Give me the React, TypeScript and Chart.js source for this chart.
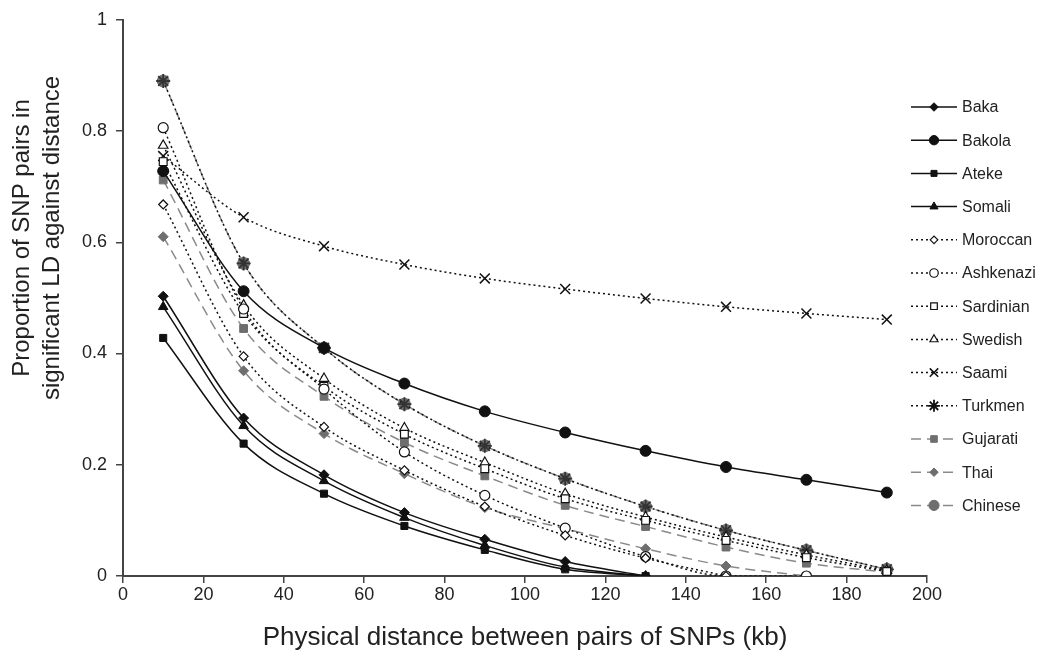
import React, { useEffect, useRef } from "react";
import { Chart, registerables } from "chart.js";
import { drawPoint } from "chart.js/helpers";

Chart.register(...registerables);

const distances = [10, 30, 50, 70, 90, 110, 130, 150, 170, 190];
const xTickStep = 20;
const yTickStep = 0.2;

const baka = [0.503, 0.284, 0.182, 0.114, 0.066, 0.026, 0];
const bakola = [0.728, 0.512, 0.41, 0.346, 0.296, 0.258, 0.225, 0.196, 0.173, 0.15];
const ateke = [0.428, 0.238, 0.148, 0.09, 0.047, 0.012, 0];
const somali = [0.484, 0.27, 0.171, 0.105, 0.055, 0.016, 0];
const moroccan = [0.668, 0.395, 0.268, 0.19, 0.125, 0.073, 0.032, 0];
const ashkenazi = [0.806, 0.48, 0.336, 0.223, 0.145, 0.086, 0.035, 0, 0];
const sardinian = [0.745, 0.472, 0.341, 0.255, 0.193, 0.139, 0.1, 0.064, 0.033, 0.008];
const swedish = [0.774, 0.487, 0.355, 0.266, 0.204, 0.148, 0.106, 0.07, 0.038, 0.01];
const saami = [0.755, 0.645, 0.593, 0.56, 0.535, 0.516, 0.499, 0.484, 0.472, 0.461];
const turkmen = [0.89, 0.562, 0.41, 0.309, 0.234, 0.175, 0.125, 0.082, 0.046, 0.012];
const gujarati = [0.712, 0.445, 0.323, 0.24, 0.18, 0.127, 0.089, 0.052, 0.023, 0.007];
const thai = [0.61, 0.369, 0.256, 0.184, 0.123, 0.085, 0.049, 0.018, 0];
const chinese = [0.89, 0.562, 0.41, 0.309, 0.234, 0.175, 0.125, 0.082, 0.046, 0.012];

const FONT = '"Liberation Sans", Arial, sans-serif';
const BLACK = "#111";
const GRAY = "#6e6e6e";
const GRAYLINE = "#8a8a8a";
const DOT = [2, 3];
const DASH = [10, 6];

const toPts = (vals: number[]) => vals.map((y, i) => ({ x: distances[i], y }));

type S = {
  label: string;
  vals: number[];
  line: string;
  dash: number[];
  style: string;
  r: number;
  fill: string;
  stroke: string;
  bw: number;
};

const series: S[] = [
  { label: "Baka", vals: baka, line: BLACK, dash: [], style: "rectRot", r: 5, fill: BLACK, stroke: BLACK, bw: 1 },
  { label: "Bakola", vals: bakola, line: BLACK, dash: [], style: "circle", r: 5.5, fill: BLACK, stroke: BLACK, bw: 1 },
  { label: "Ateke", vals: ateke, line: BLACK, dash: [], style: "rect", r: 5, fill: BLACK, stroke: BLACK, bw: 1 },
  { label: "Somali", vals: somali, line: BLACK, dash: [], style: "triangle", r: 5.5, fill: BLACK, stroke: BLACK, bw: 1 },
  { label: "Moroccan", vals: moroccan, line: BLACK, dash: DOT, style: "rectRot", r: 4.5, fill: "#fff", stroke: BLACK, bw: 1.2 },
  { label: "Ashkenazi", vals: ashkenazi, line: BLACK, dash: DOT, style: "circle", r: 5, fill: "#fff", stroke: BLACK, bw: 1.2 },
  { label: "Sardinian", vals: sardinian, line: BLACK, dash: DOT, style: "rect", r: 5.5, fill: "#fff", stroke: BLACK, bw: 1.2 },
  { label: "Swedish", vals: swedish, line: BLACK, dash: DOT, style: "triangle", r: 5.5, fill: "#fff", stroke: BLACK, bw: 1.2 },
  { label: "Saami", vals: saami, line: BLACK, dash: DOT, style: "crossRot", r: 7, fill: BLACK, stroke: BLACK, bw: 1.5 },
  { label: "Turkmen", vals: turkmen, line: BLACK, dash: DOT, style: "star", r: 7, fill: "#333", stroke: "#333", bw: 1.8 },
  { label: "Gujarati", vals: gujarati, line: GRAYLINE, dash: DASH, style: "rect", r: 5.5, fill: GRAY, stroke: GRAY, bw: 1 },
  { label: "Thai", vals: thai, line: GRAYLINE, dash: DASH, style: "rectRot", r: 5, fill: GRAY, stroke: GRAY, bw: 1 },
  { label: "Chinese", vals: chinese, line: GRAYLINE, dash: DASH, style: "circle", r: 6, fill: GRAY, stroke: GRAY, bw: 1 },
];

const legendPlugin = {
  id: "customLegend",
  afterDraw(chart: any) {
    const ctx = chart.ctx as CanvasRenderingContext2D;
    chart.data.datasets.forEach((ds: any, i: number) => {
      const y = 107 + i * 33.2;
      const lx0 = 911;
      const lx1 = 957;
      ctx.save();
      ctx.strokeStyle = ds.borderColor;
      ctx.lineWidth = ds.borderWidth;
      ctx.setLineDash(ds.borderDash || []);
      ctx.beginPath();
      ctx.moveTo(lx0, y);
      ctx.lineTo(lx1, y);
      ctx.stroke();
      ctx.setLineDash([]);
      ctx.fillStyle = ds.legendFill;
      ctx.strokeStyle = ds.legendStroke;
      ctx.lineWidth = ds.pointBorderWidth;
      drawPoint(ctx, { pointStyle: ds.pointStyle, radius: ds.pointRadius * 0.85, rotation: 0, borderWidth: ds.pointBorderWidth } as any, (lx0 + lx1) / 2, y);
      ctx.fillStyle = "#222";
      ctx.font = `16px ${FONT}`;
      ctx.textBaseline = "middle";
      ctx.textAlign = "left";
      ctx.fillText(ds.label, 962, y + 1);
      ctx.restore();
    });
  },
};

const yTitlePlugin = {
  id: "yTitle",
  afterDraw(chart: any) {
    const ctx = chart.ctx as CanvasRenderingContext2D;
    ctx.save();
    ctx.fillStyle = "#222";
    ctx.font = `24px ${FONT}`;
    ctx.textAlign = "center";
    ctx.textBaseline = "middle";
    const cy = 238;
    const lines = ["Proportion of SNP pairs in", "significant LD against distance"];
    const xs = [22, 52];
    lines.forEach((t, i) => {
      ctx.save();
      ctx.translate(xs[i], cy);
      ctx.rotate(-Math.PI / 2);
      ctx.fillText(t, 0, 0);
      ctx.restore();
    });
    ctx.restore();
  },
};

export default function App() {
  const ref = useRef<HTMLCanvasElement>(null);
  useEffect(() => {
    document.body.style.margin = "0";
    const canvas = ref.current!;
    const chart = new Chart(canvas, {
      type: "line",
      data: {
        datasets: series.map((s) => ({
          label: s.label,
          data: toPts(s.vals),
          borderColor: s.line,
          borderWidth: 1.5,
          borderDash: s.dash,
          pointStyle: s.style,
          pointRadius: s.r,
          pointBackgroundColor: s.fill,
          pointBorderColor: s.stroke,
          pointBorderWidth: s.bw,
          legendFill: s.label === "Turkmen" ? BLACK : s.fill,
          legendStroke: s.label === "Turkmen" ? BLACK : s.stroke,
          fill: false,
          cubicInterpolationMode: "monotone",
        })) as any,
      },
      options: {
        animation: false,
        responsive: false,
        maintainAspectRatio: false,
        layout: { padding: { top: 16, right: 114, left: 0, bottom: 0 } },
        plugins: { legend: { display: false }, tooltip: { enabled: false } },
        scales: {
          x: {
            type: "linear",
            min: 0,
            max: 200,
            ticks: { stepSize: xTickStep, color: "#222", font: { size: 18, family: FONT }, padding: 1, maxRotation: 0 },
            grid: { drawOnChartArea: false, drawTicks: true, tickLength: 7, color: "#444", lineWidth: 1.5 },
            border: { color: "#444", width: 2 },
            title: {
              display: true,
              text: "Physical distance between pairs of SNPs (kb)",
              color: "#222",
              font: { size: 26, family: FONT },
              padding: { top: 0, bottom: 6 },
            },
            afterFit: (s: any) => {
              s.height = 83;
            },
          },
          y: {
            min: 0,
            max: 1,
            ticks: {
              stepSize: yTickStep,
              color: "#222",
              font: { size: 18, family: FONT },
              padding: 9,
              callback: (v: any) => String(Number(Number(v).toFixed(1))),
            },
            grid: { drawOnChartArea: false, drawTicks: true, tickLength: 7, color: "#444", lineWidth: 1.5 },
            border: { color: "#444", width: 2 },
            afterFit: (s: any) => {
              s.width = 123;
            },
          },
        },
      },
      plugins: [legendPlugin, yTitlePlugin],
    });
    return () => chart.destroy();
  }, []);
  return (
    <div style={{ width: 1041, height: 659 }}>
      <canvas ref={ref} width={1041} height={659} style={{ display: "block", width: 1041, height: 659 }} />
    </div>
  );
}
